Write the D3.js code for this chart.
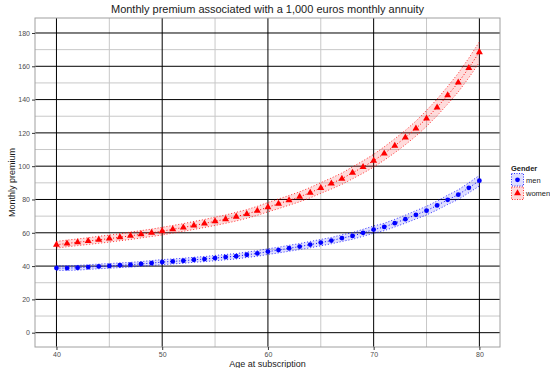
<!DOCTYPE html>
<html>
<head>
<meta charset="utf-8">
<script src="https://cdn.jsdelivr.net/npm/d3@7"></script>
<style>
  body { margin: 0; background: #fff; }
  text { font-family: "Liberation Sans", Arial, sans-serif; }
</style>
</head>
<body>
<div id="chart"></div>
<script>
// ages and premiums
const ages = d3.range(40, 81)
const men = [38.8, 38.8, 39.0, 39.4, 39.8, 40.1, 40.5, 40.8, 41.3, 41.8,
  42.4, 42.8, 43.2, 43.8, 44.2, 44.8, 45.4, 45.9, 46.8, 47.6,
  48.7, 49.6, 50.7, 51.7, 52.9, 54.1, 55.3, 56.8, 58.1, 60.0,
  61.9, 63.5, 65.8, 68.2, 70.8, 73.3, 76.4, 79.8, 82.9, 87.0, 91.3]
const menLow = [37.4, 37.4, 37.6, 38.0, 38.4, 38.7, 39.1, 39.4, 39.9, 40.3,
  40.9, 41.3, 41.7, 42.3, 42.7, 43.2, 43.8, 44.3, 45.2, 45.9,
  47.0, 47.9, 48.9, 49.9, 51.0, 52.2, 53.4, 54.8, 56.1, 57.9,
  59.7, 61.3, 63.5, 65.8, 68.3, 70.7, 73.7, 77.0, 80.0, 84.0, 88.1]
const menHigh = [40.2, 40.2, 40.4, 40.8, 41.2, 41.5, 41.9, 42.2, 42.7, 43.3,
  43.9, 44.3, 44.7, 45.3, 45.7, 46.4, 47.0, 47.5, 48.4, 49.3,
  50.4, 51.3, 52.5, 53.5, 54.8, 56.0, 57.2, 58.8, 60.1, 62.1,
  64.1, 65.7, 68.1, 70.6, 73.3, 75.9, 79.1, 82.6, 85.8, 90.0, 94.5]
const women = [52.8, 53.6, 54.3, 55.0, 55.8, 56.5, 57.3, 58.2, 59.1, 60.0,
  61.0, 62.1, 63.2, 64.4, 65.6, 66.9, 68.2, 69.7, 71.3, 73.2,
  75.4, 77.4, 79.5, 81.6, 84.1, 86.9, 89.6, 92.5, 96.0, 99.5,
  103.3, 107.6, 112.3, 117.2, 122.6, 128.7, 135.3, 142.6, 150.2, 159.0, 168.5]
const womenLow = [50.8, 51.6, 52.3, 53.0, 53.7, 54.4, 55.2, 56.0, 56.9, 57.8,
  58.7, 59.8, 60.9, 62.0, 63.2, 64.4, 65.7, 67.1, 68.7, 70.5,
  72.6, 74.5, 76.6, 78.6, 81.0, 83.7, 86.3, 89.1, 92.4, 95.8,
  99.5, 103.6, 108.1, 112.9, 118.1, 123.9, 130.3, 137.3, 144.6, 153.1, 162.3]
const womenHigh = [54.8, 55.6, 56.3, 57.0, 57.9, 58.6, 59.4, 60.4, 61.3, 62.2,
  63.3, 64.4, 65.5, 66.8, 68.0, 69.4, 70.7, 72.3, 73.9, 75.9,
  78.2, 80.3, 82.4, 84.6, 87.2, 90.1, 92.9, 95.9, 99.6, 103.2,
  107.1, 111.6, 116.5, 121.5, 127.1, 133.5, 140.3, 147.9, 155.8, 164.9, 174.7]
const xTicks = [40, 50, 60, 70, 80]
const xMinor = [45, 55, 65, 75]
const yTicks = [0, 20, 40, 60, 80, 100, 120, 140, 160, 180]
const yMinor = [10, 30, 50, 70, 90, 110, 130, 150, 170]

const width = 550,
  height = 368
const panel = { left: 35, right: 500, top: 18, bottom: 347 }

let svg = d3.select('#chart')
  .append('svg')
  .attr('width', width)
  .attr('height', height)

const x = d3.scaleLinear()
  .domain([37.97, 81.95])
  .range([panel.left, panel.right])

const y = d3.scaleLinear()
  .domain([-8.6, 189])
  .range([panel.bottom, panel.top])

// grid
const grid = svg.append('g')
grid.selectAll('.xminor').data(xMinor).enter().append('line')
  .attr('x1', d => x(d)).attr('x2', d => x(d))
  .attr('y1', panel.top).attr('y2', panel.bottom)
  .attr('stroke', '#c8c8c8').attr('stroke-width', 1)
grid.selectAll('.yminor').data(yMinor).enter().append('line')
  .attr('y1', d => y(d)).attr('y2', d => y(d))
  .attr('x1', panel.left).attr('x2', panel.right)
  .attr('stroke', '#c8c8c8').attr('stroke-width', 1)
grid.selectAll('.xmajor').data(xTicks).enter().append('line')
  .attr('x1', d => x(d)).attr('x2', d => x(d))
  .attr('y1', panel.top).attr('y2', panel.bottom)
  .attr('stroke', '#000').attr('stroke-width', 1)
grid.selectAll('.ymajor').data(yTicks).enter().append('line')
  .attr('y1', d => y(d)).attr('y2', d => y(d))
  .attr('x1', panel.left).attr('x2', panel.right)
  .attr('stroke', '#000').attr('stroke-width', 1)

svg.append('rect')
  .attr('x', panel.left).attr('y', panel.top)
  .attr('width', panel.right - panel.left).attr('height', panel.bottom - panel.top)
  .attr('fill', 'none').attr('stroke', '#a0a0a0').attr('stroke-width', 1)

// axes
const xAxis = d3.axisBottom(x).tickValues(xTicks).tickSize(3).tickPadding(2)
const yAxis = d3.axisLeft(y).tickValues(yTicks).tickSize(3).tickPadding(2)

let gx = svg.append('g')
  .attr('transform', `translate(0, ${panel.bottom})`)
  .call(xAxis)
let gy = svg.append('g')
  .attr('transform', `translate(${panel.left}, 0)`)
  .call(yAxis)
;[gx, gy].forEach(g => {
  g.select('.domain').remove()
  g.selectAll('.tick line').attr('stroke', '#333')
  g.selectAll('.tick text').attr('fill', '#4d4d4d').style('font-size', '7px')
    .style('font-family', '"Liberation Sans", Arial, sans-serif')
})

// series
const series = [
  { name: 'men', vals: men, lo: menLow, hi: menHigh, col: 'blue', fill: 'rgba(0,0,255,0.13)', shape: d3.symbolCircle, size: 18 },
  { name: 'women', vals: women, lo: womenLow, hi: womenHigh, col: 'red', fill: 'rgba(255,0,0,0.14)', shape: d3.symbolTriangle, size: 21 }
]

series.forEach(s => {
  const area = d3.area()
    .x((d, i) => x(ages[i]))
    .y0((d, i) => y(s.lo[i]))
    .y1((d, i) => y(s.hi[i]))
  svg.append('path')
    .datum(s.vals)
    .attr('d', area)
    .attr('fill', s.fill)
  ;[s.lo, s.hi].forEach(edge => {
    svg.append('path')
      .datum(edge)
      .attr('d', d3.line().x((d, i) => x(ages[i])).y(d => y(d)))
      .attr('fill', 'none').attr('stroke', s.col)
      .attr('stroke-width', 0.8).attr('stroke-dasharray', '1,2')
  })
  svg.append('path')
    .datum(s.vals)
    .attr('d', d3.line().x((d, i) => x(ages[i])).y(d => y(d)))
    .attr('fill', 'none').attr('stroke', s.col)
    .attr('stroke-width', 1).attr('stroke-dasharray', '1,2')
  svg.selectAll('.pt-' + s.name)
    .data(s.vals)
    .enter()
    .append('path')
    .attr('transform', (d, i) => `translate(${x(ages[i])}, ${y(d)})`)
    .attr('d', d3.symbol().type(s.shape).size(s.size))
    .attr('fill', s.col)
})

// titles
svg.append('text')
  .attr('x', (panel.left + panel.right) / 2).attr('y', 13)
  .attr('text-anchor', 'middle').style('font-size', '11px').attr('fill', '#1a1a1a')
  .text('Monthly premium associated with a 1,000 euros monthly annuity')
svg.append('text')
  .attr('x', (panel.left + panel.right) / 2).attr('y', 367)
  .attr('text-anchor', 'middle').style('font-size', '9px').attr('fill', '#1a1a1a')
  .text('Age at subscription')
svg.append('text')
  .attr('transform', `translate(15, ${(panel.top + panel.bottom) / 2}) rotate(-90)`)
  .attr('text-anchor', 'middle').style('font-size', '9px').attr('fill', '#1a1a1a')
  .text('Monthly premium')

// legend
const legend = svg.append('g').attr('transform', 'translate(511, 0)')
legend.append('text')
  .attr('x', 0).attr('y', 171)
  .style('font-size', '7.5px').style('font-weight', 'bold').attr('fill', '#1a1a1a')
  .text('Gender')
series.forEach((s, i) => {
  const top = 173 + i * 13.5
  legend.append('rect')
    .attr('x', 0.5).attr('y', top + 0.5).attr('width', 12).attr('height', 12.5)
    .attr('fill', s.fill).attr('stroke', s.col).attr('stroke-width', 0.8)
    .attr('stroke-dasharray', '1,1.5')
  legend.append('path')
    .attr('transform', `translate(6.5, ${top + 6.8})`)
    .attr('d', d3.symbol().type(s.shape).size(s.size))
    .attr('fill', s.col)
  legend.append('text')
    .attr('x', 15).attr('y', top + 9.5)
    .style('font-size', '7.5px').attr('fill', '#1a1a1a')
    .text(s.name)
})
</script>
</body>
</html>
